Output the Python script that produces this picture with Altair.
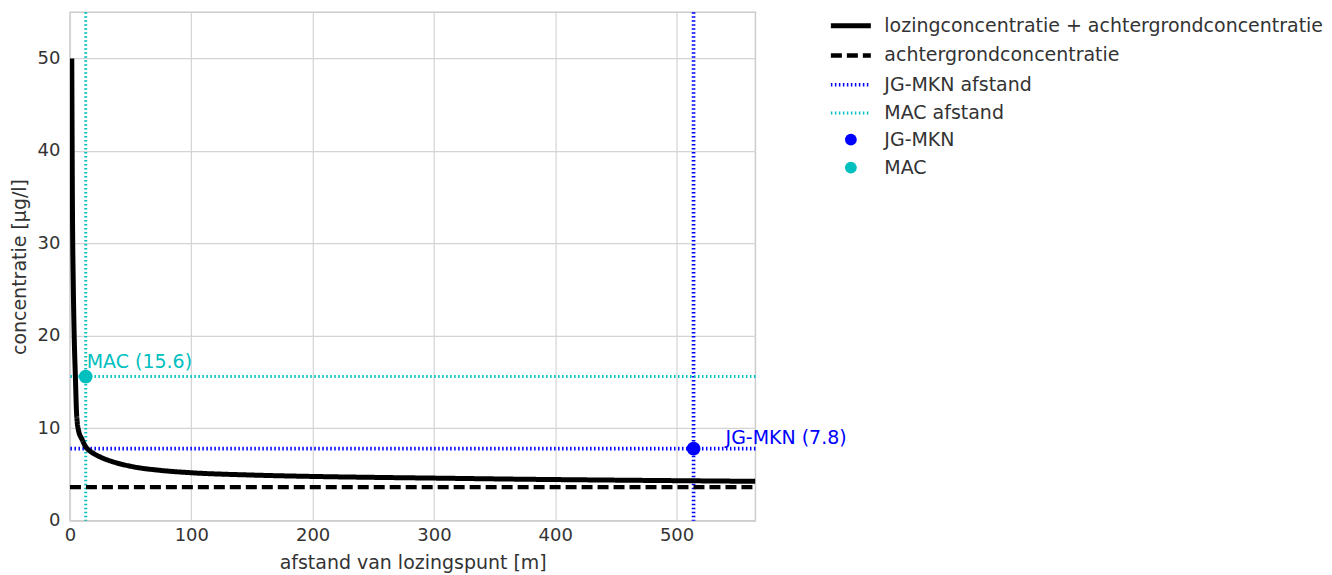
import altair as alt
import pandas as pd

# curve: lozingconcentratie + achtergrondconcentratie
curve_x = [1.5, 2, 2.8, 3.5, 4.5, 5.5, 7, 10, 13, 17, 25, 35, 50, 75, 100, 150, 200, 250, 300, 372, 450, 520, 565]
curve_y = [50, 35, 25, 20, 15.5, 11.5, 9.8, 8.8, 8.0, 7.5, 6.9, 6.4, 5.9, 5.45, 5.2, 4.95, 4.8, 4.7, 4.62, 4.5, 4.4, 4.32, 4.27]

background = 3.65
x_max = 565
y_max = 55

norm_names = ["JG-MKN", "MAC"]
norm_dist = [514, 13]
norm_conc = [7.8, 15.6]

line_series = ["lozingconcentratie + achtergrondconcentratie", "achtergrondconcentratie",
               "JG-MKN afstand", "MAC afstand"]
line_colors = ["black", "black", "#0000FF", "#00BFBF"]
line_dash = [[1, 0], [11, 5], [1.5, 2.5], [1.5, 2.5]]
line_width = [5, 3, 1.5, 1.5]
point_colors = ["#0000FF", "#00BFBF"]

FONT = "DejaVu Sans"
TXT = "#333333"

lines_df = pd.DataFrame({
    "x": curve_x + [0, x_max],
    "y": curve_y + [background, background],
    "s": [line_series[0]] * len(curve_x) + [line_series[1]] * 2,
})
v_df = pd.DataFrame({"x": norm_dist, "s": line_series[2:]})
h_df = pd.DataFrame({"y": norm_conc, "s": line_series[2:]})
pt_df = pd.DataFrame({"x": norm_dist, "y": norm_conc, "n": norm_names,
                      "label": [f"{n} ({c})" for n, c in zip(norm_names, norm_conc)]})

xs = alt.Scale(domain=[0, x_max], nice=False, zero=False)
ys = alt.Scale(domain=[0, y_max], nice=False)

X = alt.X("x:Q", scale=xs, title="afstand van lozingspunt [m]",
          axis=alt.Axis(values=[0, 100, 200, 300, 400, 500], titlePadding=9))
Y = alt.Y("y:Q", scale=ys, title="concentratie [µg/l]",
          axis=alt.Axis(values=[0, 10, 20, 30, 40, 50]))

leg_lines = alt.Legend(orient="none", legendX=769, legendY=1, symbolType="M-2,0L2,0",
                       symbolSize=400, labelOffset=21, rowPadding=6.8, padding=0, labelLimit=600)
col = alt.Color("s:N", title=None, scale=alt.Scale(domain=line_series, range=line_colors), legend=leg_lines)
dash = alt.StrokeDash("s:N", title=None, scale=alt.Scale(domain=line_series, range=line_dash), legend=leg_lines)
sw = alt.StrokeWidth("s:N", title=None, scale=alt.Scale(domain=line_series, range=line_width), legend=leg_lines)

curve = alt.Chart(lines_df).mark_line(clip=True, interpolate="monotone").encode(
    x=X, y=Y, color=col, strokeDash=dash, strokeWidth=sw)
vrules = alt.Chart(v_df).mark_rule().encode(x="x:Q", color=col, strokeDash=dash, strokeWidth=sw)
hrules = alt.Chart(h_df).mark_rule().encode(y="y:Q", color=col, strokeDash=dash, strokeWidth=sw)

fill = alt.Fill("n:N", title=None, scale=alt.Scale(domain=norm_names, range=point_colors),
                legend=alt.Legend(orient="none", legendX=772, legendY=118, symbolType="circle",
                                  symbolSize=140, labelOffset=24, rowPadding=8, padding=0,
                                  symbolStrokeWidth=0, labelLimit=600))
points = alt.Chart(pt_df).mark_point(filled=True, size=190, opacity=1, shape="circle").encode(
    x="x:Q", y="y:Q", fill=fill)

lab_jg = alt.Chart(pt_df[pt_df.n == "JG-MKN"]).mark_text(
    align="left", baseline="middle", dx=32, dy=-11, font=FONT, fontSize=19).encode(
    x="x:Q", y="y:Q", text="label:N", fill=alt.Fill("n:N", legend=None))
lab_mac = alt.Chart(pt_df[pt_df.n == "MAC"]).mark_text(
    align="left", baseline="middle", dx=1, dy=-15, font=FONT, fontSize=19).encode(
    x="x:Q", y="y:Q", text="label:N", fill=alt.Fill("n:N", legend=None))

chart = alt.layer(vrules, hrules, curve, points, lab_jg, lab_mac).properties(
    width=686, height=509, padding={"left": 2, "top": 2, "right": 0, "bottom": 0}
).configure_view(stroke="#cccccc", strokeWidth=1.5).configure_axis(
    grid=True, gridColor="#d4d4d4", gridWidth=1.2, domain=False, ticks=False, labelFlush=False,
    labelFont=FONT, labelFontSize=18, labelColor=TXT, titleFont=FONT, titleFontSize=19,
    titleFontWeight="normal", titleColor=TXT, labelPadding=6
).configure_axisY(labelPadding=10, titlePadding=8).configure_legend(
    labelFont=FONT, labelFontSize=19, labelColor=TXT
)

chart.save("out.html", embed_options={"renderer": "svg", "actions": False})
